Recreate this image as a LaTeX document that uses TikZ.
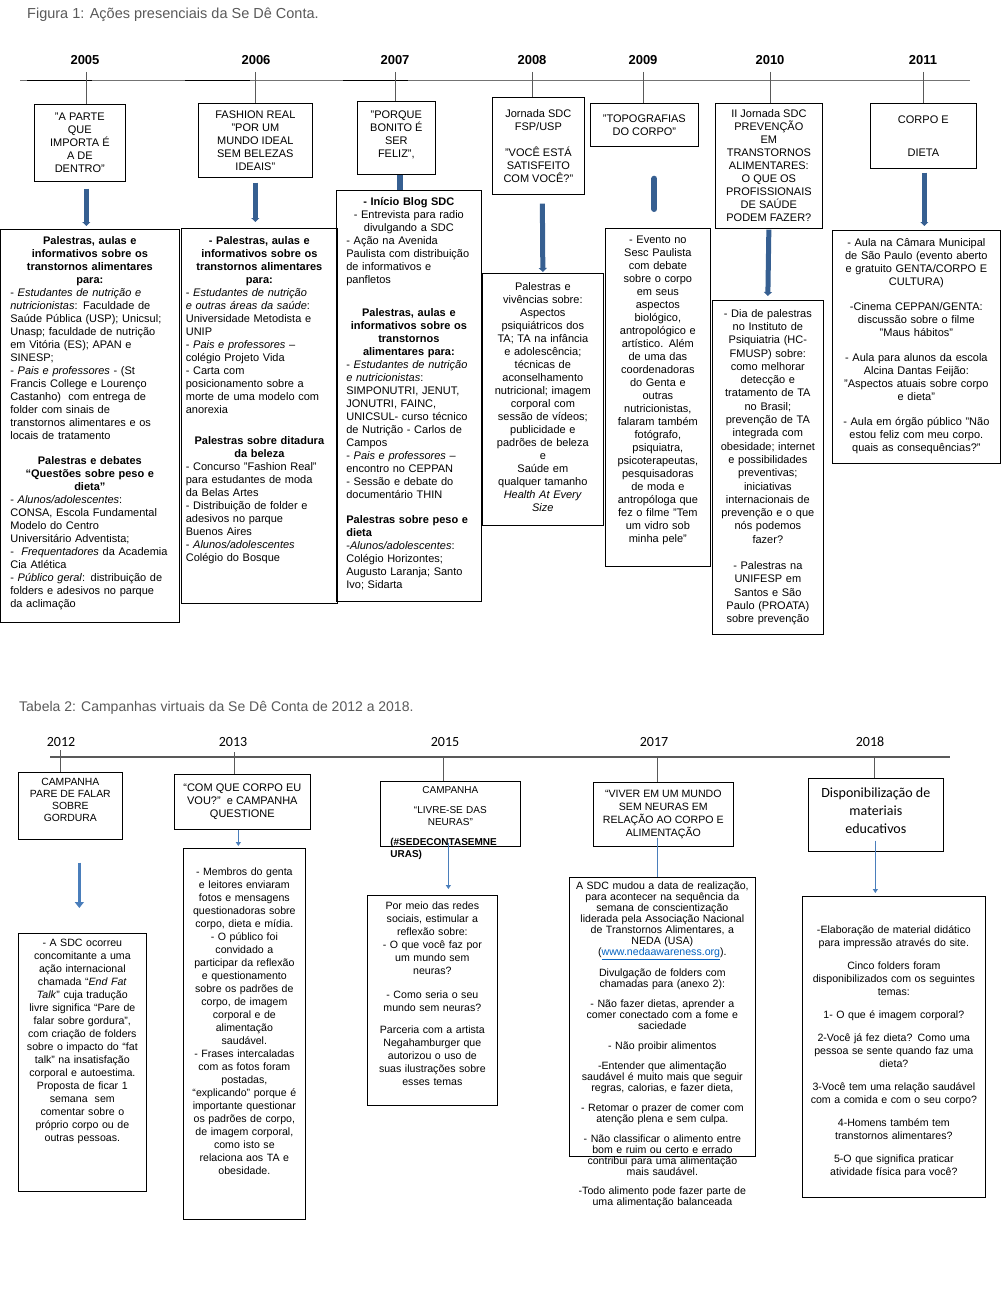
\documentclass[tikz,border=0pt]{standalone}
\usepackage{fontspec}
\setmainfont{Liberation Sans}
\newfontfamily\calibri{Carlito}
\usetikzlibrary{positioning,arrows.meta}
\setlength{\parindent}{0pt}
\definecolor{capgray}{HTML}{595959}
\definecolor{darkblue}{HTML}{365F91}
\definecolor{lightblue}{HTML}{4A7EBB}
\definecolor{linkblue}{HTML}{0563C1}
\newcommand{\topsize}{\fontsize{11}{13}\selectfont}
\newcommand{\lowsize}{\fontsize{10.6}{13}\selectfont}

\begin{document}
\begin{tikzpicture}[x=1pt, y=-1pt,
    rect/.style 2 args={draw, rectangle, anchor=north west, inner sep=0pt, line width=0.7pt, minimum width=#1pt, minimum height=#2pt},
    txt/.style={anchor=north, inner sep=0pt},
    year/.style={font=\fontsize{13}{15}\selectfont\bfseries},
    lowyear/.style={font=\calibri\fontsize{14}{16}\selectfont},
    caption/.style={anchor=west, inner sep=0pt, text=capgray},
    tick/.style={draw=black!65, line width=0.7pt},
    bigarrow/.style={draw=darkblue, line width=5pt, -{Triangle[width=8pt,length=4pt]}},
    bigstub/.style={draw=darkblue, line width=6pt, line cap=round},
    thinarrow/.style={draw=lightblue, line width=1.3pt, -{Triangle[width=5pt,length=4pt]}},
    fatarrow/.style={draw=lightblue, line width=3pt, -{Triangle[width=9pt,length=6pt]}},
    thinline/.style={draw=lightblue, line width=1.5pt}]
    \useasboundingbox (0,0) rectangle (1004,1300);

    % Figura 1: timeline
    \node[caption, font=\fontsize{14.5}{16}\selectfont] (cap-1) at (27,15) {Figura 1: Ações presenciais da Se Dê Conta.};
    \coordinate (line-a) at (20,80);
    \coordinate (line-b) at (970,80);
    \draw[draw=black!55, line width=0.7pt] (line-a) -- (line-b);
    \draw[line width=0.8pt] (27,80.5) -- (92,80.5) (185,80.5) -- (250,80.5) (343,80.5) -- (408,80.5);

    \node[year] (year-2005) at (85,60) {2005};
    \node[year] (year-2006) at (256,60) {2006};
    \node[year] (year-2007) at (395,60) {2007};
    \node[year] (year-2008) at (532,60) {2008};
    \node[year] (year-2009) at (643,60) {2009};
    \node[year] (year-2010) at (770,60) {2010};
    \node[year] (year-2011) at (923,60) {2011};

    \coordinate (tick-2005) at (86,72);
    \coordinate (tick-2006) at (255,72);
    \coordinate (tick-2007) at (395,72);
    \coordinate (tick-2008) at (532,72);
    \coordinate (tick-2009) at (643,72);
    \coordinate (tick-2010) at (770,72);
    \coordinate (tick-2011) at (923,72);

    % Figura 1: titles
    \node[rect={91}{77}, align=center, font=\topsize] (box-2005) at (34,104) {"A PARTE\\QUE\\IMPORTA É\\A DE\\DENTRO"};
    \node[rect={114}{74}, align=center, font=\topsize] (box-2006) at (198,103) {FASHION REAL\\"POR UM\\MUNDO IDEAL\\SEM BELEZAS\\IDEAIS"};
    \node[rect={78}{73}, align=center, font=\topsize] (box-2007) at (357,101) {"PORQUE\\BONITO É\\SER\\FELIZ",\\[-6pt]\mbox{}};
    \node[rect={92}{97}, align=center, font=\topsize] (box-2008) at (492,97) {Jornada SDC\\FSP/USP\\[13pt]"VOCÊ ESTÁ\\SATISFEITO\\COM VOCÊ?"};
    \node[rect={108}{43}, align=center, font=\topsize] (box-2009) at (590,103) {"TOPOGRAFIAS\\DO CORPO"};
    \node[rect={107}{125}, align=center, font=\topsize] (box-2010) at (715,103) {II Jornada SDC\\PREVENÇÃO\\EM\\TRANSTORNOS\\ALIMENTARES:\\O QUE OS\\PROFISSIONAIS\\DE SAÚDE\\PODEM FAZER?};
    \node[rect={106}{65}, align=center, font=\topsize] (box-2011) at (870,103) {CORPO E\\[20pt]DIETA};

    % Figura 1: contents
    \node[rect={179}{393}] (info-2005) at (0,229) {};
    \node[rect={156}{375}] (info-2006) at (181,228) {};
    \node[rect={145}{411}] (info-2007) at (336,190) {};
    \node[rect={121}{252}] (info-2008) at (482,273) {};
    \node[rect={105}{338}] (info-2009) at (605,228) {};
    \node[rect={111}{334}] (info-2010) at (712,300) {};
    \node[rect={168}{233}] (info-2011) at (832,230) {};

    \node[txt, text width=159pt, align=left, font=\topsize, below=7pt of info-2005.north] (text-2005) {%
      {\centering\bfseries Palestras, aulas e\\ informativos sobre os\\ transtornos alimentares\\ para:\par}
      - \textit{Estudantes de nutrição e}\\
      \textit{nutricionistas}: Faculdade de\\
      Saúde Pública (USP); Unicsul;\\
      Unasp; faculdade de nutrição\\
      em Vitória (ES); APAN e\\
      SINESP;\\
      - \textit{Pais e professores} - (St\\
      Francis College e Lourenço\\
      Castanho)\ \ com entrega de\\
      folder com sinais de\\
      transtornos alimentares e os\\
      locais de tratamento\par
      \vspace{12pt}
      {\centering\bfseries Palestras e debates\\ “Questões sobre peso e\\ dieta”\par}
      - \textit{Alunos/adolescentes}:\\
      CONSA, Escola Fundamental\\
      Modelo do Centro\\
      Universitário Adventista;\\
      -\ \ \textit{Frequentadores} da Academia\\
      Cia Atlética\\
      - \textit{Público geral}: distribuição de\\
      folders e adesivos no parque\\
      da aclimação};

    \node[txt, text width=147pt, align=left, font=\topsize, below=8pt of info-2006.north] (text-2006) {%
      {\centering\bfseries - Palestras, aulas e\\ informativos sobre os\\ transtornos alimentares\\ para:\par}
      - \textit{Estudantes de nutrição}\\
      \textit{e outras áreas da saúde}:\\
      Universidade Metodista e\\
      UNIP\\
      - \textit{Pais e professores} –\\
      colégio Projeto Vida\\
      - Carta com\\
      posicionamento sobre a\\
      morte de uma modelo com\\
      anorexia\par
      \vspace{18pt}
      {\centering\bfseries Palestras sobre ditadura\\ da beleza\par}
      - Concurso "Fashion Real"\\
      para estudantes de moda\\
      da Belas Artes\\
      - Distribuição de folder e\\
      adesivos no parque\\
      Buenos Aires\\
      - \textit{Alunos/adolescentes}\\
      Colégio do Bosque};

    \node[txt, text width=125pt, align=left, font=\topsize, below=7pt of info-2007.north] (text-2007) {%
      {\centering\textbf{- Início Blog SDC}\\ - Entrevista para radio\\ divulgando a SDC\par}
      - Ação na Avenida\\
      Paulista com distribuição\\
      de informativos e\\
      panfletos\par
      \vspace{20pt}
      {\centering\bfseries Palestras, aulas e\\ informativos sobre os\\ transtornos\\ alimentares para:\par}
      - \textit{Estudantes de nutrição}\\
      \textit{e nutricionistas}:\\
      SIMPONUTRI, JENUT,\\
      JONUTRI, FAINC,\\
      UNICSUL- curso técnico\\
      de Nutrição - Carlos de\\
      Campos\\
      - \textit{Pais e professores} –\\
      encontro no CEPPAN\\
      - Sessão e debate do\\
      documentário THIN\par
      \vspace{12pt}
      \textbf{Palestras sobre peso e}\\
      \textbf{dieta}\\
      -\textit{Alunos/adolescentes}:\\
      Colégio Horizontes;\\
      Augusto Laranja; Santo\\
      Ivo; Sidarta};

    \node[txt, text width=115pt, align=center, font=\topsize, below=9pt of info-2008.north] (text-2008) {Palestras e\\ vivências sobre:\\ Aspectos\\ psiquiátricos dos\\ TA; TA na infância\\ e adolescência;\\ técnicas de\\ aconselhamento\\ nutricional; imagem\\ corporal com\\ sessão de vídeos;\\ publicidade e\\ padrões de beleza\\ e\\ Saúde em\\ qualquer tamanho\\ \textit{Health At Every}\\ \textit{Size}};

    \node[txt, text width=101pt, align=center, font=\topsize, below=8pt of info-2009.north] (text-2009) {- Evento no\\ Sesc Paulista\\ com debate\\ sobre o corpo\\ em seus\\ aspectos\\ biológico,\\ antropológico e\\ artístico. Além\\ de uma das\\ coordenadoras\\ do Genta e\\ outras\\ nutricionistas,\\ falaram também\\ fotógrafo,\\ psiquiatra,\\ psicoterapeutas,\\ pesquisadoras\\ de moda e\\ antropóloga que\\ fez o filme "Tem\\ um vidro sob\\ minha pele"};

    \node[txt, text width=107pt, align=center, font=\fontsize{11}{13.3}\selectfont, below=9pt of info-2010.north] (text-2010) {- Dia de palestras\\ no Instituto de\\ Psiquiatria (HC-\\ FMUSP) sobre:\\ como melhorar\\ detecção e\\ tratamento de TA\\ no Brasil;\\ prevenção de TA\\ integrada com\\ obesidade; internet\\ e possibilidades\\ preventivas;\\ iniciativas\\ internacionais de\\ prevenção e o que\\ nós podemos\\ fazer?\\[13pt] - Palestras na\\ UNIFESP em\\ Santos e São\\ Paulo (PROATA)\\ sobre prevenção};

    \node[txt, text width=162pt, align=center, font=\topsize, below=8pt of info-2011.north] (text-2011) {- Aula na Câmara Municipal\\ de São Paulo (evento aberto\\ e gratuito GENTA/CORPO E\\ CULTURA)\\[12pt] -Cinema CEPPAN/GENTA:\\ discussão sobre o filme\\ "Maus hábitos"\\[12pt] - Aula para alunos da escola\\ Alcina Dantas Feijão:\\ "Aspectos atuais sobre corpo\\ e dieta"\\[12pt] - Aula em órgão público "Não\\ estou feliz com meu corpo.\\ quais as consequências?"};

    % Figura 1: connectors
    \draw[tick] (tick-2005) -- (tick-2005 |- box-2005.north);
    \draw[tick] (tick-2006) -- (tick-2006 |- box-2006.north);
    \draw[tick] (tick-2007) -- (tick-2007 |- box-2007.north);
    \draw[tick] (tick-2008) -- (tick-2008 |- box-2008.north);
    \draw[tick] (tick-2009) -- (tick-2009 |- box-2009.north);
    \draw[tick] (tick-2010) -- (tick-2010 |- box-2010.north);
    \draw[tick] (tick-2011) -- (tick-2011 |- box-2011.north);

    \draw[bigarrow] ([xshift=6.5pt,yshift=-7pt]box-2005.south) -- ([xshift=-3.5pt,yshift=3pt]info-2005.north);
    \draw[bigarrow] ([yshift=-5pt]box-2006.south) -- ([xshift=-4pt,yshift=6pt]info-2006.north);
    \draw[draw=darkblue, line width=6pt] ([xshift=4pt]box-2007.south) -- ([xshift=-8.5pt]info-2007.north);
    \draw[bigarrow] ([xshift=4pt,yshift=-9pt]box-2008.south) -- ([yshift=1pt]info-2008.north);
    \draw[bigstub] ([xshift=10pt,yshift=-32pt]box-2009.south) -- ([xshift=-3.5pt,yshift=19pt]info-2009.north);
    \draw[bigarrow] ([yshift=-1pt]box-2010.south) -- ([yshift=4pt]info-2010.north);
    \draw[bigarrow] ([xshift=1pt,yshift=-4pt]box-2011.south) -- ([xshift=8pt,yshift=4pt]info-2011.north);

    % Tabela 2: timeline
    \node[caption, font=\fontsize{14}{16}\selectfont] (cap-2) at (19,708) {Tabela 2: Campanhas virtuais da Se Dê Conta de 2012 a 2018.};
    \coordinate (line-c) at (50,757);
    \coordinate (line-d) at (950,757);
    \draw[draw=black!65, line width=1.2pt] (line-c) -- (line-d);

    \node[lowyear] (year-2012) at (61,742) {2012};
    \node[lowyear] (year-2013) at (233,742) {2013};
    \node[lowyear] (year-2015) at (445,742) {2015};
    \node[lowyear] (year-2017) at (654,742) {2017};
    \node[lowyear] (year-2018) at (870,742) {2018};

    \coordinate (tick-2012) at (60,750);
    \coordinate (tick-2013) at (234,752);
    \coordinate (tick-2015) at (443,757);
    \coordinate (tick-2017) at (657,757);
    \coordinate (tick-2018) at (874,757);

    % Tabela 2: titles
    \node[rect={104}{67}, align=center, font=\fontsize{10.4}{12}\selectfont] (box-2012) at (18,772) {CAMPANHA\\PARE DE FALAR\\SOBRE\\GORDURA\\\mbox{}};
    \node[rect={136}{55}, align=center, font=\topsize] (box-2013) at (174,774) {“COM QUE CORPO EU\\VOU?”\ \ e CAMPANHA\\QUESTIONE};
    \node[rect={140}{65}] (box-2015) at (380,781) {};
    \node[txt, text width=120pt, align=left, font=\fontsize{10}{12}\selectfont, below=5pt of box-2015.north] (text-2015a) {%
      {\centering CAMPANHA\par}
      \vspace{8pt}
      {\centering “LIVRE-SE DAS\\ NEURAS”\par}
      \vspace{8pt}
      \textbf{(\#SEDECONTASEMNE}\\
      \textbf{URAS)}};
    \node[rect={140}{64}, align=center, font=\lowsize] (box-2017) at (593,782) {“VIVER EM UM MUNDO\\SEM NEURAS EM\\RELAÇÃO AO CORPO E\\ALIMENTAÇÃO};
    \node[rect={135}{73}, align=center, font=\calibri\fontsize{14}{18}\selectfont] (box-2018) at (808,778) {Disponibilização de\\materiais\\educativos\\[-10pt]\mbox{}};

    % Tabela 2: contents
    \node[rect={128}{258}] (info-2012) at (18,933) {};
    \node[rect={122}{371}] (info-2013) at (183,848) {};
    \node[rect={130}{210}] (info-2015) at (367,895) {};
    \node[rect={186}{279}] (info-2017) at (569,877) {};
    \node[rect={183}{301}] (info-2018) at (802,896) {};

    \node[txt, text width=122pt, align=center, font=\lowsize, below=6pt of info-2012.north] (text-2012) {- A SDC ocorreu\\ concomitante a uma\\ ação internacional\\ chamada “\textit{End Fat}\\ \textit{Talk}” cuja tradução\\ livre significa “Pare de\\ falar sobre gordura”,\\ com criação de folders\\ sobre o impacto do “fat\\ talk” na insatisfação\\ corporal e autoestima.\\ Proposta de ficar 1\\ semana\ \ sem\\ comentar sobre o\\ próprio corpo ou de\\ outras pessoas.};

    \node[txt, text width=116pt, align=center, font=\lowsize, below=20pt of info-2013.north] (text-2013) {- Membros do genta\\ e leitores enviaram\\ fotos e mensagens\\ questionadoras sobre\\ corpo, dieta e mídia.\\ - O público foi\\ convidado a\\ participar da reflexão\\ e questionamento\\ sobre os padrões de\\ corpo, de imagem\\ corporal e de\\ alimentação\\ saudável.\\ - Frases intercaladas\\ com as fotos foram\\ postadas,\\ “explicando” porque é\\ importante questionar\\ os padrões de corpo,\\ de imagem corporal,\\ como isto se\\ relaciona aos TA e\\ obesidade.};

    \node[txt, text width=124pt, align=center, font=\lowsize, below=7pt of info-2015.north] (text-2015) {Por meio das redes\\ sociais, estimular a\\ reflexão sobre:\\ - O que você faz por\\ um mundo sem\\ neuras?\\[11pt] - Como seria o seu\\ mundo sem neuras?\\[9pt] Parceria com a artista\\ Negahamburger que\\ autorizou o uso de\\ suas ilustrações sobre\\ esses temas};

    \node[txt, text width=180pt, align=center, font=\fontsize{10.6}{11}\selectfont, below=5pt of info-2017.north] (text-2017) {A SDC mudou a data de realização,\\ para acontecer na sequência da\\ semana de conscientização\\ liderada pela Associação Nacional\\ de Transtornos Alimentares, a\\ NEDA (USA)\\ (\textcolor{linkblue}{\underline{www.nedaawareness.org}}).\\[8pt] Divulgação de folders com\\ chamadas para (anexo 2):\\[9pt] - Não fazer dietas, aprender a\\ comer conectado com a fome e\\ saciedade\\[9pt] - Não proibir alimentos\\[9pt] -Entender que alimentação\\ saudável é muito mais que seguir\\ regras, calorias, e fazer dieta,\\[9pt] - Retomar o prazer de comer com\\ atenção plena e sem culpa.\\[9pt] - Não classificar o alimento entre\\ bom e ruim ou certo e errado\\ contribui para uma alimentação\\ mais saudável.\\[8pt] -Todo alimento pode fazer parte de\\ uma alimentação balanceada};

    \node[txt, text width=175pt, align=center, font=\lowsize, below=29pt of info-2018.north] (text-2018) {-Elaboração de material didático\\ para impressão através do site.\\[10pt] Cinco folders foram\\ disponibilizados com os seguintes\\ temas:\\[10pt] 1- O que é imagem corporal?\\[10pt] 2-Você já fez dieta? Como uma\\ pessoa se sente quando faz uma\\ dieta?\\[10pt] 3-Você tem uma relação saudável\\ com a comida e com o seu corpo?\\[10pt] 4-Homens também tem\\ transtornos alimentares?\\[10pt] 5-O que significa praticar\\ atividade física para você?};

    % Tabela 2: connectors
    \draw[tick] (tick-2012) -- (tick-2012 |- box-2012.north);
    \draw[tick] (tick-2013) -- (tick-2013 |- box-2013.north);
    \draw[tick] (tick-2015) -- (tick-2015 |- box-2015.north);
    \draw[tick] (tick-2017) -- (tick-2017 |- box-2017.north);
    \draw[tick] (tick-2018) -- (tick-2018 |- box-2018.north);

    \draw[fatarrow] ([xshift=9pt,yshift=-23pt]box-2012.south) -- ([xshift=-3pt,yshift=25pt]info-2012.north);
    \draw[thinarrow] ([xshift=-4pt]box-2013.south) -- ([xshift=-6pt,yshift=2pt]info-2013.north);
    \draw[thinarrow] ([xshift=-2pt,yshift=4pt]box-2015.south) -- ([xshift=16pt,yshift=6pt]info-2015.north);
    \draw[thinline] ([xshift=-6pt,yshift=9pt]box-2017.south) -- ([xshift=-5pt]info-2017.north);
    \draw[thinarrow] ([xshift=-0.5pt,yshift=11pt]box-2018.south) -- ([xshift=-18.5pt,yshift=3pt]info-2018.north);
\end{tikzpicture}
\end{document}
